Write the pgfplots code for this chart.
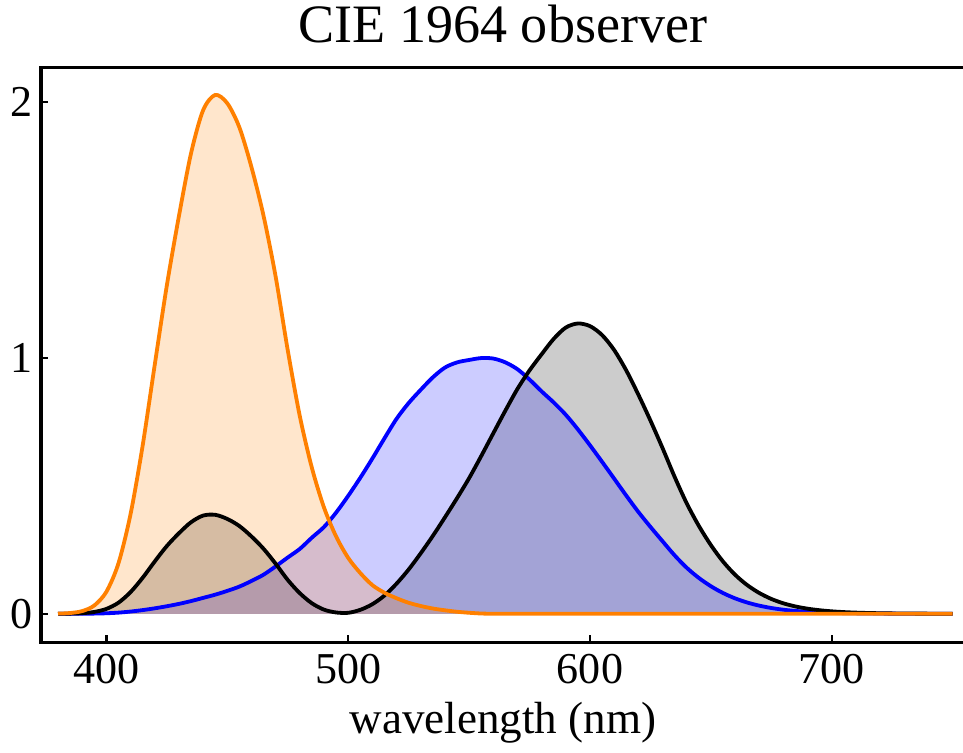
\documentclass[border=0pt]{standalone}
\usepackage{fontspec}
\setmainfont{Liberation Serif}
\usepackage{pgfplots}
\usepackage{pgfplotstable}
\pgfplotsset{compat=1.18}

\pgfplotstableread{
lam x y z
380 0.000160 0.000017 0.000705
385 0.000662 0.000072 0.002928
390 0.002362 0.000253 0.010482
395 0.007242 0.000769 0.032344
400 0.019110 0.002004 0.086011
405 0.043400 0.004509 0.197120
410 0.084736 0.008756 0.389366
415 0.140638 0.014456 0.656760
420 0.204492 0.021391 0.972542
425 0.264737 0.029497 1.282500
430 0.314679 0.038676 1.553480
435 0.357719 0.049602 1.798500
440 0.383734 0.062077 1.967280
445 0.386726 0.074704 2.027300
450 0.370702 0.089456 1.994800
455 0.342957 0.106256 1.900700
460 0.302273 0.128201 1.745370
465 0.254085 0.152761 1.554900
470 0.195618 0.185190 1.317560
475 0.132349 0.219940 1.030200
480 0.080507 0.253589 0.772125
485 0.041072 0.297665 0.570060
490 0.016172 0.339133 0.415254
495 0.005132 0.395379 0.302356
500 0.003816 0.460777 0.218502
505 0.015444 0.531360 0.159249
510 0.037465 0.606741 0.112044
515 0.071358 0.685660 0.082248
520 0.117749 0.761757 0.060709
525 0.172953 0.823330 0.043050
530 0.236491 0.875211 0.030451
535 0.304213 0.923810 0.020584
540 0.376772 0.961988 0.013676
545 0.451584 0.982200 0.007918
550 0.529826 0.991761 0.003988
555 0.616053 0.999110 0.001091
560 0.705224 0.997340 0
565 0.793832 0.982380 0
570 0.878655 0.955552 0
575 0.951162 0.915175 0
580 1.014160 0.868934 0
585 1.074300 0.825623 0
590 1.118520 0.777405 0
595 1.134300 0.720353 0
600 1.123990 0.658341 0
605 1.089100 0.593878 0
610 1.030480 0.527963 0
615 0.950740 0.461834 0
620 0.856297 0.398057 0
625 0.754930 0.339554 0
630 0.647467 0.283493 0
635 0.535110 0.228254 0
640 0.431567 0.179828 0
645 0.343690 0.140211 0
650 0.268329 0.107633 0
655 0.204300 0.081187 0
660 0.152568 0.060281 0
665 0.112210 0.044096 0
670 0.081261 0.031800 0
675 0.057930 0.022602 0
680 0.040851 0.015905 0
685 0.028623 0.011130 0
690 0.019941 0.007749 0
695 0.013842 0.005375 0
700 0.009577 0.003718 0
705 0.006605 0.002565 0
710 0.004553 0.001768 0
715 0.003145 0.001222 0
720 0.002175 0.000846 0
725 0.001506 0.000586 0
730 0.001045 0.000407 0
735 0.000727 0.000284 0
740 0.000508 0.000199 0
745 0.000356 0.000140 0
750 0.000251 0.000098 0
}\cie

\definecolor{corange}{RGB}{255,128,0}
\definecolor{cblue}{RGB}{0,0,255}

\begin{document}
\begin{tikzpicture}
\begin{axis}[
  name=ax,
  scale only axis,
  width=461pt, height=287pt,
  xmin=373, xmax=755,
  ymin=-0.111, ymax=2.136,
  xtick={400,500,600,700},
  ytick={0,1,2},
  tick align=inside,
  xtick pos=bottom, ytick pos=left,
  major tick length=3.5pt,
  every tick/.style={black, line width=1.2pt},
  axis line style={line width=1.6pt},
  /pgf/number format/assume math mode=true,
  ticklabel style={font=\fontsize{22}{26}\selectfont},
  xticklabel style={anchor=base, inner sep=0pt, yshift=-20.5pt},
  yticklabel style={anchor=east, inner sep=0pt, xshift=-4pt},
  title={CIE 1964 observer},
  every axis title shift=0pt,
  title style={font=\fontsize{27}{32}\selectfont, at={(axis description cs:0.5,1)}, anchor=base, inner sep=0pt, yshift=12.5pt},
  xlabel={wavelength (nm)},
  xlabel style={font=\fontsize{22.5}{27}\selectfont, at={(axis description cs:0.5,0)}, anchor=base, inner sep=0pt, yshift=-45.5pt},
]
\addplot[draw=none, fill=black, fill opacity=0.2] table[x=lam, y=x] {\cie} \closedcycle;
\addplot[draw=none, fill=cblue, fill opacity=0.2] table[x=lam, y=y] {\cie} \closedcycle;
\addplot[draw=none, fill=corange, fill opacity=0.2] table[x=lam, y=z] {\cie} \closedcycle;
\addplot[smooth, cblue, line width=1.9pt] table[x=lam, y=y] {\cie};
\addplot[smooth, black, line width=1.9pt] table[x=lam, y=x] {\cie};
\addplot[smooth, corange, line width=1.9pt] table[x=lam, y=z] {\cie};
\end{axis}
\pgfresetboundingbox
\path ([xshift=-20.5pt, yshift=-55pt]ax.south west) rectangle ([xshift=-0.9pt, yshift=33.5pt]ax.north east);
\end{tikzpicture}
\end{document}
